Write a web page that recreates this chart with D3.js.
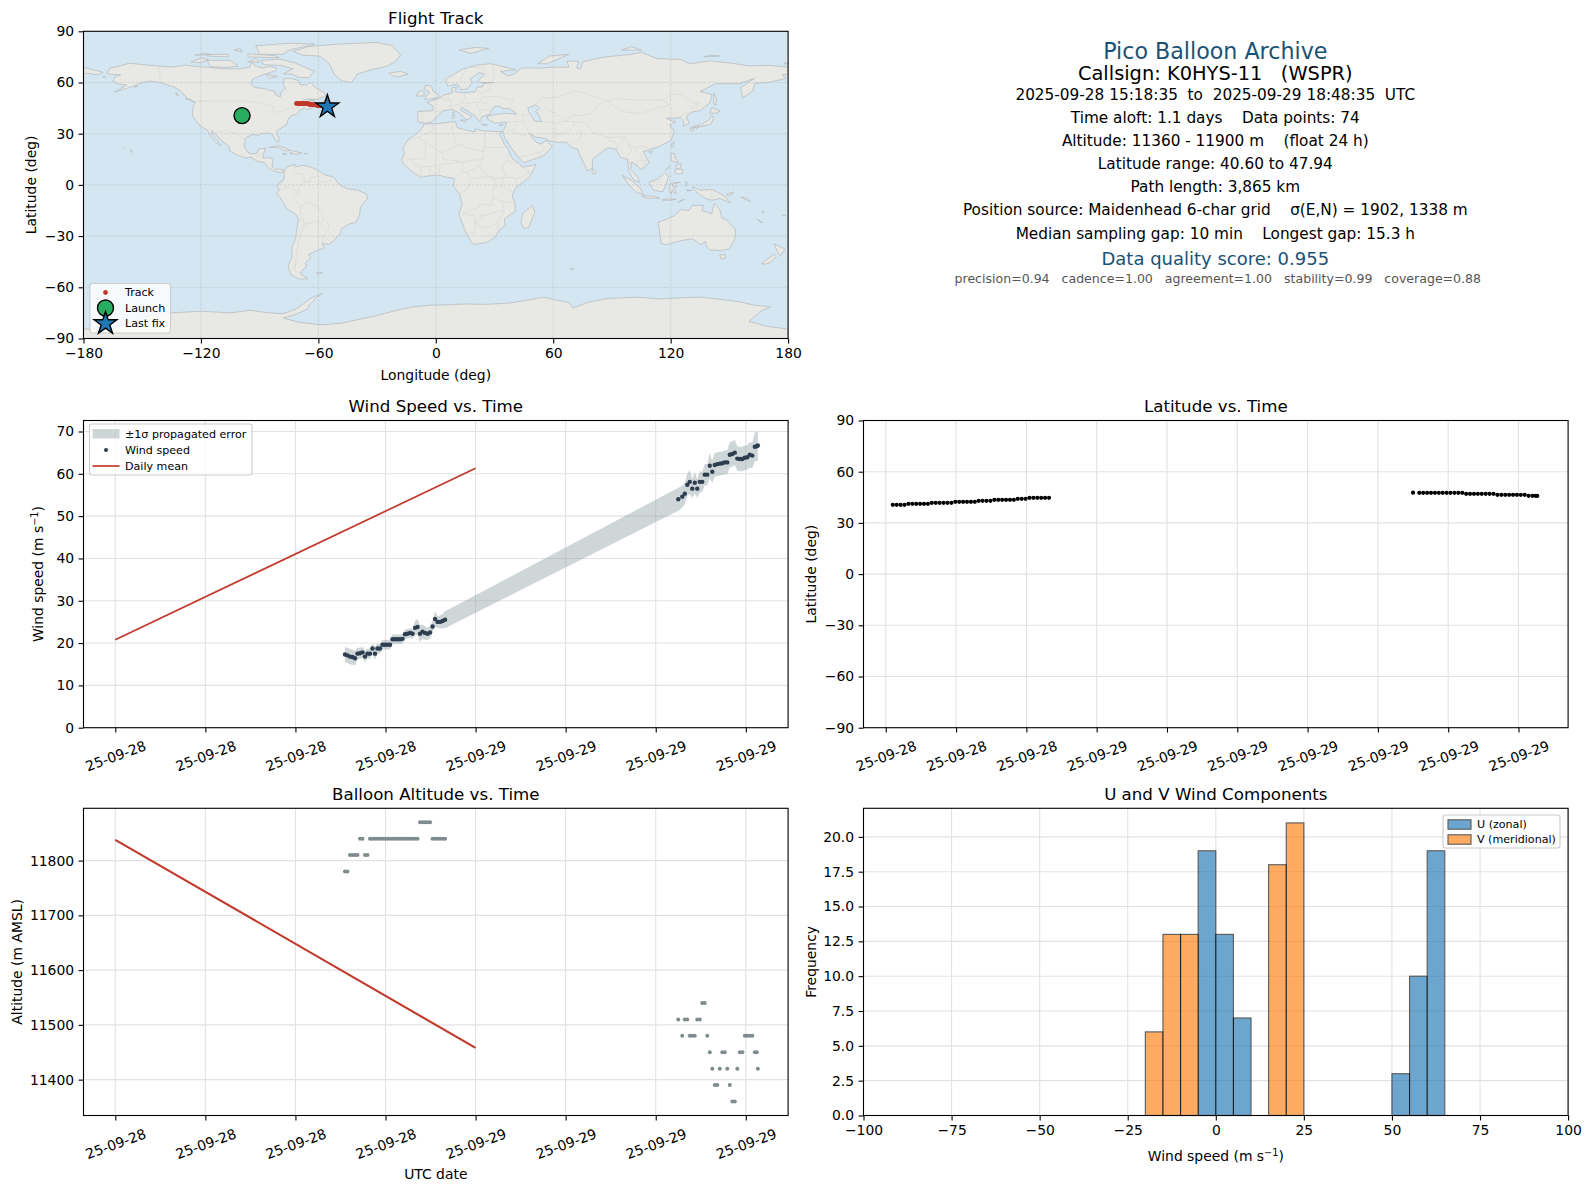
<!DOCTYPE html>
<html>
<head>
<meta charset="utf-8">
<script src="https://cdn.jsdelivr.net/npm/d3@7"></script>
<style>
  body { margin: 0; background: #fff; }
  text { font-family: "DejaVu Sans", sans-serif; fill: #000; white-space: pre; }
</style>
</head>
<body>
<div id="chart"></div>
<script>
// fix times, first and second day of the flight
var day1Times = ["15:18","15:28","15:38","15:48","15:58","16:08","16:18","16:28","16:38","16:48","16:58","17:08","17:18","17:28","17:38","17:48","17:58","18:08","18:18","18:28","18:38","18:48","18:58","19:08","19:18","19:28","19:38","19:48","19:58","20:08","20:18","20:28","20:38","20:48","20:58","21:08","21:18","21:28","21:38","21:48","21:58"];
var day2Times = ["13:30","13:46","13:56","14:06","14:16","14:26","14:36","14:46","14:56","15:06","15:16","15:26","15:36","15:46","15:56","16:06","16:16","16:26","16:36","16:46","16:56","17:06","17:16","17:26","17:36","17:46","17:56","18:06","18:16","18:26","18:36","18:44","18:48"];

var latitudes = [40.6,40.6,40.6,40.6,41.2,41.2,41.2,41.2,41.2,41.2,41.77,41.77,41.77,41.77,41.77,41.77,42.36,42.36,42.36,42.36,42.36,42.36,42.94,42.94,42.94,42.94,43.5,43.5,43.5,43.5,43.5,43.5,44.1,44.1,44.1,44.7,44.7,44.7,44.7,44.7,44.7,
  47.7,47.64,47.64,47.64,47.64,47.64,47.64,47.64,47.64,47.64,47.64,47.64,47.64,47.06,47.06,47.06,47.06,47.06,47.06,47.06,47.06,46.47,46.47,46.47,46.47,46.47,46.47,46.47,46.47,45.89,45.89,45.89,45.8];
// the map only shows the second day of the track, the first is under the launch marker
var trackLats = [47.7,47.64,47.64,47.64,47.64,47.64,47.64,47.64,47.64,47.64,47.64,47.64,47.64,47.06,47.06,47.06,47.06,47.06,47.06,47.06,47.06,46.47,46.47,46.47,46.47,46.47,46.47,46.47,46.47,45.89,45.89,45.89,45.8];
var trackLons = [-71.2,-70.4,-69.9,-69.4,-68.9,-68.5,-68,-67.5,-67,-66.6,-66.1,-65.6,-65.1,-64.6,-64.1,-63.6,-63.1,-62.6,-62.1,-61.6,-61.1,-60.6,-60.1,-59.6,-59.1,-58.6,-58.1,-57.6,-57.1,-56.7,-56.2,-55.8,-55.4];
var launchPos = [-99, 40.6];

var windSpeed = [17.3,17.1,16.8,16.7,16.4,17.5,17.6,17.8,16.8,17.5,17.5,18.7,17.5,18.7,18.7,19.6,19.6,19.6,19.6,20.9,20.9,20.9,20.9,21,22.1,22.2,22.4,22.2,23.6,23.8,22.2,22.7,22.4,22.2,22.5,23.9,25.7,25,25,25.2,25.5,
  54,54.6,55.3,57.4,58.1,56.5,57.9,56.5,58.1,58.1,59.8,59.8,61.9,60.5,62.1,62.3,62.4,62.5,62.7,62.7,64.5,64.7,65,63.6,63.5,63.5,63.8,63.9,64.5,64.3,66.4,66.5,66.7];
var windSigma = [1.8,1.8,1.8,1.8,1.7,1.4,1.3,1.3,1.4,1.2,1.2,1.2,1.5,1.2,1.1,1.1,1.1,1.1,1.1,1.1,1.1,1.1,1.1,1.1,1.1,1.1,1.1,1.2,1.7,1.9,1.9,1.7,1.6,1.5,1.4,1.4,1.9,1.4,1.5,1.7,2,
  2.7,2.6,2.5,2.6,2.8,2.2,2.5,2.2,2.5,2.4,2.5,2.5,3,2.6,2.8,2.8,2.8,2.8,2.8,2.8,3,3,3,2.9,2.9,2.9,2.9,2.9,3,3,3.4,3.5,3.5];

var altitudes = [11780,11780,11810,11810,11810,11810,11840,11840,11810,11810,11840,11840,11840,11840,11840,11840,11840,11840,11840,11840,11840,11840,11840,11840,11840,11840,11840,11840,11840,11840,11870,11870,11870,11870,11870,11840,11840,11840,11840,11840,11840,
  11510,11480,11510,11510,11480,11480,11480,11510,11510,11540,11540,11480,11450,11420,11390,11390,11420,11450,11450,11420,11390,11360,11360,11420,11450,11450,11480,11480,11480,11480,11450,11450,11420];

var meanDays = ["2025-09-28 00:00","2025-09-29 00:00"];
var meanWind = [20.8,61.3];
var meanAlt = [11838,11458];

var binWidth = 5;
var uBins = [-5,0,5,50,55,60];
var uCounts = [19,13,7,3,10,19];
var vBins = [-20,-15,-10,15,20];
var vCounts = [6,13,13,18,21];

var infoLines = [
  "2025-09-28 15:18:35  to  2025-09-29 18:48:35  UTC",
  "Time aloft: 1.1 days    Data points: 74",
  "Altitude: 11360 - 11900 m    (float 24 h)",
  "Latitude range: 40.60 to 47.94",
  "Path length: 3,865 km",
  "Position source: Maidenhead 6-char grid    σ(E,N) = 1902, 1338 m",
  "Median sampling gap: 10 min    Longest gap: 15.3 h"
];

// coastlines, rough lon/lat outlines
var land = [
  // north america
  [[-168,65.6],[-166.5,68.3],[-163,69.3],[-156.5,71.3],[-150,70.5],[-141,69.6],[-135,69],[-128,70.2],[-124,69.6],[-115,68.8],[-108,68],[-100,68],[-95,69],[-94,71.8],[-92,69.5],[-88,68.5],[-85,69.5],[-81.5,68.5],[-81.5,67],[-87,65],[-90,63.8],[-93.5,62],[-94.5,59],[-92.5,57],[-88,56.5],[-85,55.3],[-82.3,55],[-82,52.9],[-79.5,51.5],[-79,54.5],[-76.7,56.5],[-78,59],[-77.5,62.5],[-73.5,62.3],[-70,61],[-69.5,58.8],[-66,58.5],[-64.5,60.3],[-61.5,57],[-58,54.8],[-55.7,52.5],[-58.5,51.2],[-60,50.2],[-66.5,50.2],[-70,47.5],[-65,49],[-64.5,47.8],[-65,47],[-61,46],[-66,44],[-67,45],[-70,43.5],[-70.5,41.7],[-74,40.5],[-75.5,38],[-76,35.5],[-78,34],[-81,32],[-81.3,30],[-80,26.8],[-80.5,25.2],[-81.8,26],[-82.8,28],[-84,30],[-86,30.4],[-89.5,30],[-90,29.1],[-94,29.5],[-97.2,27.5],[-97.5,25],[-97.8,22.3],[-96,19],[-94.5,18.2],[-91.5,18.5],[-90.5,21],[-87,21.5],[-88,18],[-88.5,15.9],[-84,15.8],[-83.3,14.9],[-83.7,11],[-82.5,9.2],[-80,9.2],[-77.4,8.7],[-78,7.5],[-80,7.3],[-83,8.2],[-85.5,10],[-87.5,13],[-91.5,14],[-94.5,16.2],[-97,15.8],[-101.5,17.5],[-105.5,20],[-105.5,22.5],[-109,25.5],[-112.5,29.5],[-114.5,31.5],[-114.8,30],[-112,26.5],[-110,23],[-112,24.7],[-114.5,27.5],[-116,30.5],[-117.2,32.5],[-120.5,34.5],[-122.5,37.5],[-124.3,40.5],[-124,46],[-122.7,48.5],[-127,50.5],[-130,54.5],[-133,57],[-137,58.5],[-140,59.8],[-146,60.8],[-150,60],[-152,59],[-158,56.5],[-164,54.5],[-158,58.5],[-162,59],[-165,61],[-164,63.3],[-161,64.5],[-166,64.7]],
  // greenland and the arctic islands
  [[-73,78.2],[-65,81],[-50,82.5],[-30,83.5],[-22,81.5],[-18,76],[-21,72],[-25,69.5],[-33,67.5],[-40,65],[-43,60],[-48,61],[-52,65],[-53.5,69],[-55,71.5],[-59,75.5],[-68,76]],
  [[-80,73.7],[-72,71.5],[-68,69.5],[-62,66.5],[-65,62.8],[-70,63],[-73.5,65],[-78,65],[-73,68],[-79,70],[-88,70.5],[-89,73]],
  [[-117,73],[-105,73],[-101,69.5],[-108,68.8],[-115,69.3]],
  [[-125,72],[-120,74.3],[-116,73.5],[-120,71.5]],
  [[-90,76.5],[-78,76.5],[-75,79],[-62,82.5],[-75,83],[-92,81.5]],
  [[-96,75],[-80,74.5],[-82,75.7],[-96,76.8]],
  [[-117,75.5],[-106,75],[-106,76.5],[-117,76.5]],
  [[-123,76],[-118,77],[-115,76.3]],
  [[-103,79],[-99,78],[-100,80]],
  [[-96,72],[-92,74],[-90,72]],
  [[-87,65],[-81,63.5],[-85,62.5]],
  [[-59,47.7],[-55.5,51.5],[-52.8,47.5],[-55.5,46.8]],
  [[-128,50.7],[-123.5,48.4],[-125,50]],
  [[-133,54],[-131.5,53],[-132,52]],
  [[-64.5,49.9],[-61.8,49.4],[-63.5,49.2]],
  [[-85,22],[-80,23],[-74.2,20.2],[-77.5,19.9],[-80,22]],
  [[-74.4,18.4],[-72.8,19.9],[-68.4,18.7],[-71,18]],
  [[-78.3,18.4],[-76.3,18.1],[-77.5,17.8]],
  [[-67.2,18.5],[-65.6,18.3],[-67,18]],
  [[-156,20.8],[-155,19.6],[-155.8,19]],
  [[-159.7,22.2],[-159.3,21.9],[-159.6,21.8]],
  [[-154,57.8],[-152.3,58],[-153.5,57]],
  [[-170,63.5],[-168.7,63.3],[-170,63.1]],
  // chukotka, west of the date line
  [[-180,69],[-175,67.5],[-170,66],[-173,64.5],[-178,65.5],[-180,65]],
  // south america
  [[-77.4,8.7],[-75.5,10.8],[-72,12],[-71.5,10.7],[-68,11.5],[-64,10.5],[-60,8.5],[-57,6],[-52,4.5],[-50,1],[-48,-0.8],[-44.5,-2.5],[-40,-3],[-35.3,-5.3],[-34.9,-8],[-38.5,-13],[-39,-18],[-41,-22],[-44.5,-23],[-48.5,-26],[-48.8,-28.5],[-52.5,-33],[-54.5,-35],[-58.2,-34.2],[-57,-37],[-62,-39],[-65,-41],[-63.8,-42.5],[-67,-46],[-65.8,-47.5],[-69,-51],[-68.5,-52.5],[-65.5,-55],[-70,-55.2],[-74,-52.5],[-75.5,-48],[-73.5,-42],[-73.5,-37],[-71.5,-30],[-70.2,-20],[-71.5,-17.3],[-76.2,-14],[-79.5,-7.5],[-81.3,-5],[-80,-3],[-81,-1],[-80,1],[-78.5,2],[-77.5,4],[-77.5,7]],
  [[-61,-51.5],[-58,-51.5],[-59.5,-52.3]],
  // antarctica
  [[-180,-90],[-180,-84.5],[-165,-84],[-155,-80],[-148,-77],[-135,-75],[-120,-74],[-105,-75],[-95,-73.5],[-85,-75],[-78,-75.5],[-72,-73],[-68,-70],[-64,-66.5],[-58,-63.5],[-61,-66],[-64,-69.5],[-66,-73],[-72,-76],[-78,-78],[-70,-80.5],[-58,-82],[-48,-81],[-40,-79],[-30,-76.5],[-20,-73.5],[-12,-71.5],[-3,-70.5],[5,-70.3],[14,-69.8],[26,-70],[38,-69.2],[47,-67.5],[55,-65.8],[62,-67.5],[68,-69],[70,-72],[73,-71],[77,-69],[88,-66.5],[102,-65.8],[115,-66.8],[125,-66.2],[135,-65.7],[145,-67],[155,-68.5],[163,-70.5],[171,-71.5],[166,-74],[163,-77],[160,-80],[170,-83],[180,-84.5],[180,-90]],
  // africa
  [[-5.9,35.8],[0,35.8],[10,37.2],[11,33.5],[15,32.3],[20,31],[20,32.8],[25,31.6],[32,31.2],[34.3,31.2],[32.5,29.9],[35,24],[37.2,20.5],[39,15.5],[43.2,12],[44.5,10.4],[51.2,11.9],[48,4.5],[41,-1.5],[39,-6],[40.5,-11],[40.5,-15.5],[35,-20],[35.5,-24],[32.8,-26],[30,-31],[25.5,-34],[20,-34.8],[18.3,-34],[15,-27],[11.8,-17],[13.5,-11],[12,-5],[9,-1],[9.5,3.8],[6,4.4],[1,5.8],[-4.5,5.2],[-7.5,4.4],[-13,8.5],[-16.5,12.5],[-17.5,14.7],[-16,19],[-17,21],[-14.5,26],[-9.8,30],[-6.5,34]],
  // eurasia
  [[-5.5,36.1],[-9,37],[-9.3,43],[-1.5,43.5],[-1.2,46],[-4.5,48.4],[2,51],[4,52.5],[8.5,54],[8.2,57],[10.5,57.5],[10,54.5],[14,54],[20,54.5],[21,57],[24,57.5],[24,59.3],[30,60],[23,60],[21.5,61],[25,65],[22,65.8],[17.5,62],[18.5,60],[16.5,56.5],[13,55.5],[11,59],[6,58],[5,62],[14,68],[21,70.2],[28,71],[41,67.5],[33,66.5],[37,64],[40,65],[44,68.5],[54,68.5],[60,69],[68,69],[67,72.5],[73,72.5],[72,68.5],[74,68],[75,72],[80,73.5],[87,75],[100,76.5],[105,77.7],[113,74],[125,73.5],[130,71],[140,72.7],[150,71.5],[160,69.7],[170,70],[180,69],[180,65],[177,64.5],[179,62.5],[170,60],[163,59.5],[162,55],[156.8,51],[155.8,57],[163,62.5],[155,59.3],[143,59.3],[135,54.7],[141,53],[140,48],[135,43.5],[131,42.7],[128,40],[129.5,36],[126.5,34.5],[126.5,37.5],[125,39.5],[121.5,39],[118,39],[120.5,37.5],[122.5,37],[119.5,35],[122,31],[120,26],[114,22.5],[110,21],[106,19.5],[109,13],[105,9],[103,11],[100,13.5],[99.5,9],[103.5,4],[104,1.3],[101,3],[98.5,8],[98,15],[94.5,16],[92,21],[88,21.7],[85,19.5],[80,15],[80,10],[77.5,8],[73,19],[72.5,21],[69,22],[67,25],[61.5,25],[57,26],[56.5,27],[51,28],[48,30],[50,26.5],[51.5,25],[54,24],[56.3,26],[59.5,22.5],[55,17],[45,13],[43,15],[39,21],[35,28],[34.8,29.5],[34.3,31.2],[35.8,35],[36,36.8],[30,36.2],[26.5,38.5],[26,40],[29,41],[35,42],[41.5,41.5],[38,44.5],[33.5,45],[33,46],[30,46],[28,43],[28,41.5],[26,40.8],[23.5,40],[22.5,37],[19.5,41],[13,45.5],[12.5,44],[16,41.5],[18.5,40],[16,38],[12,42],[8.5,44.3],[3.5,43.3],[0,39.5],[-2,36.8]],
  // europe and arctic russia islands
  [[-24,65.5],[-18,66.5],[-14,65],[-19,63.4],[-22.5,64]],
  [[-5.5,50],[1.3,51],[1.5,52.8],[-1.5,55],[-2,57.5],[-5,58.6],[-6,56.5],[-3,54],[-5,52]],
  [[-10,52],[-6,52.2],[-6,55],[-8.5,55]],
  [[12,79],[20,80.5],[27,80],[18,77]],
  [[52,71],[57,71],[68,76.5],[58,75.5]],
  [[95,79],[105,79],[100,81]],
  [[137,75],[145,75.5],[140,76]],
  [[178,71.5],[180,71],[178,70.8]],
  [[8.5,41],[9.8,41],[9.5,39],[8.5,39]],
  [[12.5,38],[15.5,38],[15,36.7]],
  [[9,43],[9.5,42.5],[8.7,41.5]],
  [[23.5,35.5],[26.3,35.2],[24.5,34.9]],
  [[32.3,35],[34.5,35.6],[33.5,34.7]],
  // indian ocean
  [[49.3,-12],[50.5,-16],[47.5,-25],[45,-25.5],[43.5,-22],[44.5,-16.5]],
  [[80,9.8],[81.8,7.5],[80.5,6],[79.8,7.5]],
  [[69,-49],[70.5,-49.3],[69.5,-50]],
  // east asia
  [[142,54],[143.5,50],[143,46.5],[142,48]],
  [[141,45.4],[145.3,43.3],[143,42],[140,42]],
  [[131,34],[136,35.5],[140,38.5],[141,41],[142,39],[140.5,35.5],[137,34.5],[132,33.5]],
  [[130,33.5],[131.8,33],[131,31.2],[130,32]],
  [[132.5,34],[134.5,34],[133,33]],
  [[121,25],[122,25],[120.8,22],[120.1,23.3]],
  [[108.8,19.4],[110.8,20],[110,18.4]],
  [[120.5,18.5],[122.2,18.5],[122,16],[124,13],[120.7,13.8],[120,16]],
  [[122.5,9.5],[126.3,9],[126,6.5],[124,6.5],[122,7]],
  [[122.5,11.5],[125.5,12.5],[125,10],[123,9.5]],
  [[117.2,8.3],[119.5,10.5],[119.7,11.2],[118,9.2]],
  // indonesia and the pacific
  [[109,1.5],[113,3.2],[117,7],[119,5],[117.8,1],[116,-4],[111,-3]],
  [[95.3,5.6],[100,2.5],[104.5,-2],[106,-5.8],[102,-4],[98,1]],
  [[105.3,-6.5],[111,-6.5],[114.5,-7.8],[108,-7.8]],
  [[120,1],[125,1.5],[120.8,0.3],[121,-1],[123.3,-0.9],[121.5,-2],[123,-5],[121.5,-4.5],[120.8,-2.8],[120.3,-5.5],[119.5,-4],[119,-2.5]],
  [[116,-8.5],[119,-8.3],[123,-8.3],[119.5,-9],[116,-9]],
  [[124,-9.8],[127,-8.4],[124,-10.2]],
  [[127.5,2],[128.5,1],[128,-0.8]],
  [[128,-3],[130.8,-3.2],[128.5,-3.6]],
  [[131,-1],[135,-3],[141,-2.7],[147,-6],[150.5,-10.5],[145,-8],[141,-9],[138,-8],[133,-4]],
  [[148.5,-5.5],[152,-4.2],[151,-6],[149,-6.2]],
  [[156,-7],[159,-8],[161,-10],[157.5,-8.2]],
  [[164,-20],[167,-22],[166,-22]],
  [[167,-15],[167.5,-16.5],[166.7,-15.7]],
  [[177.2,-17.5],[178.6,-18],[177.5,-18.3]],
  [[113.5,-22],[114.2,-26],[115,-34.3],[118,-35],[124,-33],[131,-31.5],[135.5,-35],[138,-33],[138,-35.5],[140,-38],[145,-38.5],[150,-37.5],[153,-31],[153,-26],[149,-21],[146,-19],[145.3,-15],[142.5,-10.8],[141.5,-14],[141,-17],[136,-15],[136.7,-12],[131,-12],[129.5,-15],[125,-14.5],[122,-18],[117,-20.5]],
  [[145,-41],[148,-41],[148,-43],[146,-43.5]],
  [[172.8,-34.5],[178.5,-37.7],[176,-41.5],[174.7,-39.5]],
  [[172.8,-40.5],[174,-42],[171,-45.5],[168,-46.5],[166.5,-46]]
];

var lakes = [
  [[47,45],[51,47],[53,45],[51,43],[53,40],[54,37],[50.5,37.5],[49,40],[47.5,43]]
];

// country borders, only the bigger ones
var borders = [
  [[-141,69.6],[-141,60.3]],
  [[-123,49],[-95,49],[-89,48],[-83,46],[-82.5,42.5],[-79,43.2],[-75,45],[-71,45],[-68,47],[-67,45]],
  [[-117.2,32.5],[-111,31.3],[-106.5,31.8],[-101,29.5],[-97.2,26]],
  [[-92,14.5],[-91,17.5],[-88.8,18]],
  [[-72,12],[-73,9],[-72,7],[-67.5,6],[-67,1.5],[-70,-1],[-70,-4.2],[-73,-7],[-70.5,-11],[-69,-12.5],[-69,-16.5],[-69.5,-17.5],[-70.2,-18.4]],
  [[-60,8.5],[-60.5,5],[-64,4],[-64,2],[-67,1.5]],
  [[-80,-3],[-75.5,-1.5],[-70,-4.2]],
  [[-69,-12.5],[-65,-10],[-60,-13.5],[-58,-16],[-58,-20],[-55,-22],[-54.5,-25.5],[-57.5,-30],[-53.5,-33.5]],
  [[-57.6,-22],[-62.5,-22],[-67,-23],[-68.5,-18]],
  [[-70,-18.4],[-67,-23],[-69.5,-30],[-71,-39],[-72,-50],[-69,-52]],
  [[-58,-34],[-58,-30]],
  [[-52,4.5],[-54,2.3],[-57,2],[-60,1]],
  [[-1.5,43.5],[3,42.5]],
  [[-7,42],[-7,37.2]],
  [[2.5,51],[8,49],[7,46],[7.5,44]],
  [[7,53.5],[6,51],[8,49]],
  [[14,54],[15,51],[12.5,47.5],[7,46]],
  [[12.5,47.5],[17,48],[22,48.5],[24,51.5],[23.5,54],[21,55.3]],
  [[17,48],[16,46.5],[13.5,45.7]],
  [[22,48.5],[21,46],[22.5,44],[23,41.5],[20.5,40]],
  [[22.5,44],[28.5,43.7]],
  [[22,48.5],[26,48],[28,45.5],[29.5,45.3]],
  [[24,51.5],[32,52],[35,50.5],[40,49.5],[38.2,47]],
  [[23.5,54],[28,56],[27.7,59.5]],
  [[28,60.5],[30,63],[29,69.5]],
  [[12,61],[16,68.5],[20.5,69],[25,68.5],[24,66]],
  [[26,41.5],[28,41.8]],
  [[36,36.8],[42,37.2],[44.7,37.3],[44.5,39.5],[43.5,41]],
  [[44.7,37.3],[46,35],[46.5,33],[48,30]],
  [[42,37.2],[41,34.3],[39,32],[36,32]],
  [[48.5,41.8],[46.5,41],[43.5,41]],
  [[46.5,29],[44,29.2],[39,32]],
  [[52,19],[55,20],[55.5,22],[51.5,24.5]],
  [[43,16.5],[47,17],[52,19]],
  [[53,17],[53,19.5]],
  [[61.5,25],[61,29.5],[61,35],[60.5,36.5],[66.5,37.3],[71,37],[74.5,37]],
  [[61,29.5],[66,29.7],[70,33.5],[71,37]],
  [[54,37.3],[60.5,36.5]],
  [[66.5,37.3],[61,42],[56,45],[52,42],[53,41.5]],
  [[50,46.5],[55,51],[61,51],[71,55],[77,53.5],[83,51],[87.5,49]],
  [[87.5,49],[83,47],[80,42],[74.5,40.5],[70,41],[66.5,37.3]],
  [[87.5,49],[91,46],[97,42.7],[105,41.8],[112,44.8],[119,46.7],[116,49.7],[108,49.5],[98,50],[92,50.7],[87.5,49]],
  [[119,46.7],[116,49.7],[120,53],[126,53],[131,48],[135,48.3],[131,45],[131,42.7]],
  [[131,42.7],[128,42],[124.5,40]],
  [[126.5,38.5],[128.5,38.5]],
  [[74.5,37],[77.5,35.5],[80,30.5],[88,28],[92,27.8],[97,28.2],[98.5,24],[101.5,21.5],[105,23],[108,21.5]],
  [[74.5,32],[74,27],[70,24.5],[69,22]],
  [[88,28],[88.5,26],[92,25],[92.5,21]],
  [[97,28.2],[94,24],[92.5,21]],
  [[98.5,24],[100,20],[98,17],[99.5,11]],
  [[101.5,21.5],[104.5,18],[106,14.5],[103,14],[103,11]],
  [[106,14.5],[107.5,14],[106,11]],
  [[115,4.5],[114,1.3],[109.7,1.8]],
  [[141,-2.7],[141,-9]],
  // africa
  [[-1.5,35],[-1,32],[-9,27.7],[-13,27.7]],
  [[-9,27.7],[-5,25],[3,19],[12,23.5],[14,22.5],[24,19.5],[24,22],[36.8,22]],
  [[9,37],[8,32],[9.5,30],[10,24.5],[12,23.5]],
  [[25,31.6],[25,20],[24,19.5],[24,15],[22,11],[27,5],[31,3.7],[34,4.3],[36,4.5],[41,3.9]],
  [[24,15],[15.5,14],[14,12.5],[13.5,13.7],[4,15],[3,19]],
  [[-16.5,16],[-12,15],[-5.5,15.5],[-5,25]],
  [[-12,15],[-11.5,12.5],[-8,10.5],[-3,11],[2,11],[3.5,12],[13.5,13.7]],
  [[-8,10.5],[-7.5,4.4]],
  [[-3,11],[-3,5]],
  [[2,11],[1.7,6.2]],
  [[14,12.5],[13,7],[9.7,4]],
  [[13,7],[16,7.5],[22,11]],
  [[16,7.5],[18,3.5],[27,5]],
  [[18,3.5],[16,-3],[12,-5]],
  [[27,5],[31,2],[29.5,-1.5],[29,-8],[28.5,-12],[22,-11],[22,-13],[13.5,-17]],
  [[29.5,-1.5],[34,-1],[39.5,-4.5]],
  [[34,-1],[34,4.3]],
  [[36,14],[34,10],[36,4.5]],
  [[36.8,22],[37.5,18],[36,14],[42.5,12.5]],
  [[43,11],[48,8],[48,5]],
  [[48,8],[44,5],[41,3.9],[41,-1.5]],
  [[29,-8],[34,-9.5],[40.5,-10.5]],
  [[34,-9.5],[35,-16],[33,-19],[31.5,-22.3],[32,-26.8]],
  [[22,-18],[25,-18],[33,-15],[35,-16]],
  [[20,-18],[20,-28],[17,-28.5]],
  [[25,-18],[20,-22],[25,-25.5],[31.5,-22.3]],
  [[13.5,-17],[20,-18]]
];

var COL_LEFT = 83.5, COL_RIGHT = 863.5, PANEL_W = 704.6;
var ROW_TOP = [31.3, 420.5, 808.3], PANEL_H = 307.2;
var RED = "#c0392b", NAVY = "#2c3e50", GREY = "#7f8c8d", TITLE_BLUE = "#1a5276";

var parseFix = d3.utcParse("%Y-%m-%d %H:%M");
var fixes = day1Times.map(t => parseFix("2025-09-28 " + t))
  .concat(day2Times.map(t => parseFix("2025-09-29 " + t)));
var meanDates = meanDays.map(parseFix);

var svg = d3.select("#chart").append("svg")
  .attr("width", 1589)
  .attr("height", 1189)
  .style("display", "block");

var minus = s => String(s).replace("-", "\u2212");

function panel(left, top, title, titleGap) {
  var g = svg.append("g").attr("transform", "translate(" + left + "," + top + ")");
  g.append("text")
    .attr("x", PANEL_W / 2)
    .attr("y", -(titleGap || 8))
    .style("text-anchor", "middle")
    .style("font-size", "16.67px")
    .text(title);
  return g;
}

// spines and axes come last so they sit over the marks
function frame(g, xAxis, yAxis, rotate) {
  g.append("rect")
    .attr("width", PANEL_W)
    .attr("height", PANEL_H)
    .attr("fill", "none")
    .attr("stroke", "#000")
    .attr("stroke-width", 1.1);

  var gx = g.append("g")
    .attr("transform", "translate(0," + PANEL_H + ")")
    .call(xAxis.tickSizeOuter(0).tickSize(4.9).tickPadding(4.5));
  var gy = g.append("g")
    .call(yAxis.tickSizeOuter(0).tickSize(4.9).tickPadding(4.5));
  [gx, gy].forEach(a => {
    a.select(".domain").remove();
    a.selectAll(".tick line").attr("stroke", "#000").attr("stroke-width", 1.1);
    a.selectAll("text").style("font-size", "13.9px").style("font-family", '"DejaVu Sans", sans-serif').attr("fill", "#000");
  });
  if (rotate) {
    gx.selectAll(".tick text")
      .attr("y", 0)
      .attr("dy", 0)
      .attr("transform", "translate(0,28.2) rotate(-20)")
      .attr("dominant-baseline", "central")
      .style("text-anchor", "middle");
  }
}

function grid(g, xVals, x, yVals, y) {
  g.append("g").selectAll("line").data(xVals).enter().append("line")
    .attr("x1", d => x(d)).attr("x2", d => x(d))
    .attr("y1", 0).attr("y2", PANEL_H)
    .attr("stroke", "#e2e2e2").attr("stroke-width", 1.1);
  g.append("g").selectAll("line").data(yVals).enter().append("line")
    .attr("y1", d => y(d)).attr("y2", d => y(d))
    .attr("x1", 0).attr("x2", PANEL_W)
    .attr("stroke", "#e2e2e2").attr("stroke-width", 1.1);
}

function axisLabel(text, x, y, vertical) {
  var t = svg.append("text")
    .attr("transform", "translate(" + x + "," + y + ")" + (vertical ? " rotate(-90)" : ""))
    .attr("dominant-baseline", "central")
    .style("text-anchor", "middle")
    .style("font-size", "13.9px");
  // the unit has a superscript
  var m = text.split("^");
  t.append("tspan").text(m[0]);
  if (m[1]) {
    t.append("tspan").attr("dy", "-0.4em").style("font-size", "9.7px").text(m[1]);
    t.append("tspan").attr("dy", "0.28em").text(")");
  }
}

function legendBox(x, y, w, h) {
  svg.append("rect")
    .attr("x", x).attr("y", y).attr("width", w).attr("height", h)
    .attr("rx", 2.5)
    .attr("fill", "#fff").attr("fill-opacity", 0.8)
    .attr("stroke", "#ccc").attr("stroke-width", 1.1);
}

function legendText(text, x, y) {
  svg.append("text")
    .attr("x", x).attr("y", y)
    .attr("dominant-baseline", "central")
    .style("font-size", "11.1px")
    .text(text);
}

// ---- flight track map
(function () {
  var g = panel(COL_LEFT, ROW_TOP[0], "Flight Track", 7);
  var x = d3.scaleLinear().domain([-180, 180]).range([0, PANEL_W]);
  var y = d3.scaleLinear().domain([-90, 90]).range([PANEL_H, 0]);
  var line = d3.line().x(d => x(d[0])).y(d => y(d[1]));

  svg.append("clipPath").attr("id", "map-clip").append("rect")
    .attr("width", PANEL_W).attr("height", PANEL_H);
  var map = g.append("g").attr("clip-path", "url(#map-clip)");

  map.append("rect").attr("width", PANEL_W).attr("height", PANEL_H).attr("fill", "#d4e6f1");
  map.selectAll(".land").data(land).enter().append("path")
    .attr("class", "land")
    .attr("d", d => line(d) + "Z")
    .attr("fill", "#e8e8e4")
    .attr("stroke", "#b4b8ba")
    .attr("stroke-width", 0.7);
  map.selectAll(".border").data(borders).enter().append("path")
    .attr("class", "border")
    .attr("d", line)
    .attr("fill", "none")
    .attr("stroke", "#d9d9d5")
    .attr("stroke-width", 0.7);
  map.selectAll(".lake").data(lakes).enter().append("path")
    .attr("class", "lake")
    .attr("d", d => line(d) + "Z")
    .attr("fill", "#d4e6f1")
    .attr("stroke", "#b4b8ba")
    .attr("stroke-width", 0.7);

  var gridColor = "#a9b0b4";
  map.append("g").selectAll("line").data(d3.range(-120, 180, 60)).enter().append("line")
    .attr("x1", d => x(d)).attr("x2", d => x(d)).attr("y1", 0).attr("y2", PANEL_H)
    .attr("stroke", gridColor).attr("stroke-opacity", 0.55).attr("stroke-width", 0.7).attr("stroke-dasharray", "2.5,1.5");
  map.append("g").selectAll("line").data(d3.range(-60, 90, 30)).enter().append("line")
    .attr("y1", d => y(d)).attr("y2", d => y(d)).attr("x1", 0).attr("x2", PANEL_W)
    .attr("stroke", gridColor).attr("stroke-opacity", 0.55).attr("stroke-width", 0.7).attr("stroke-dasharray", "2.5,1.5");

  map.selectAll(".fix").data(trackLons).enter().append("circle")
    .attr("class", "fix")
    .attr("cx", d => x(d))
    .attr("cy", (d, i) => y(trackLats[i]))
    .attr("r", 2.4)
    .attr("fill", RED);

  var last = trackLons.length - 1;
  map.append("circle")
    .attr("cx", x(launchPos[0])).attr("cy", y(launchPos[1]))
    .attr("r", 8).attr("fill", "#27ae60").attr("stroke", "#000").attr("stroke-width", 1.4);
  map.append("path")
    .attr("d", d3.symbol().type(d3.symbolStar).size(160))
    .attr("transform", "translate(" + x(trackLons[last]) + "," + y(trackLats[last]) + ")")
    .attr("fill", "#1f77b4").attr("stroke", "#000").attr("stroke-width", 1.4);

  frame(g,
    d3.axisBottom(x).tickValues(d3.range(-180, 181, 60)).tickFormat(minus),
    d3.axisLeft(y).tickValues(d3.range(-90, 91, 30)).tickFormat(minus));

  axisLabel("Longitude (deg)", COL_LEFT + PANEL_W / 2, 375);
  axisLabel("Latitude (deg)", 30.5, ROW_TOP[0] + PANEL_H / 2, true);

  legendBox(90, 283.5, 80.5, 49.5);
  svg.append("circle").attr("cx", 105.5).attr("cy", 292.5).attr("r", 2.4).attr("fill", RED);
  svg.append("circle").attr("cx", 105.5).attr("cy", 308).attr("r", 8).attr("fill", "#27ae60").attr("stroke", "#000").attr("stroke-width", 1.4);
  svg.append("path")
    .attr("d", d3.symbol().type(d3.symbolStar).size(160))
    .attr("transform", "translate(105.5,323.5)")
    .attr("fill", "#1f77b4").attr("stroke", "#000").attr("stroke-width", 1.4);
  legendText("Track", 125, 292.5);
  legendText("Launch", 125, 308);
  legendText("Last fix", 125, 323.5);
})();

// ---- summary text, top right
(function () {
  var cx = COL_RIGHT + PANEL_W / 2 - 0.5;
  function centered(text, y, size, color, shift) {
    svg.append("text")
      .attr("x", cx + (shift || 0)).attr("y", y)
      .attr("dominant-baseline", "central")
      .style("text-anchor", "middle")
      .style("font-size", size + "px")
      .style("fill", color)
      .text(text);
  }
  centered("Pico Balloon Archive", 51, 22.2, TITLE_BLUE);
  centered("Callsign: K0HYS-11   (WSPR)", 73.3, 19.4, "#000");
  var ys = [94.6, 117.8, 141.1, 163.5, 186.8, 210.2, 233.5];
  infoLines.forEach((s, i) => centered(s, ys[i], 15.3, "#000"));
  centered("Data quality score: 0.955", 258, 18, TITLE_BLUE);
  centered("precision=0.94   cadence=1.00   agreement=1.00   stability=0.99   coverage=0.88", 278.3, 12.55, "#555", 2.5);
})();

// shared time scale of the wind and altitude panels
var xLong = d3.scaleUtc()
  .domain([new Date(Date.UTC(2025, 8, 27, 21, 53, 0)), new Date(Date.UTC(2025, 8, 29, 20, 49, 0))])
  .range([0, PANEL_W]);
var xLongTicks = xLong.ticks(d3.utcHour.every(6));
var dateFmt = d3.utcFormat("%y-%m-%d");

// ---- wind speed
(function () {
  var g = panel(COL_LEFT, ROW_TOP[1], "Wind Speed vs. Time", 8.5);
  var y = d3.scaleLinear().domain([0, 72.6]).range([PANEL_H, 0]);
  grid(g, xLongTicks, xLong, d3.range(10, 71, 10), y);

  g.append("path")
    .datum(fixes)
    .attr("d", d3.area()
      .x(d => xLong(d))
      .y0((d, i) => y(windSpeed[i] - windSigma[i]))
      .y1((d, i) => y(windSpeed[i] + windSigma[i])))
    .attr("fill", "#95a5a6").attr("fill-opacity", 0.45);

  g.append("path")
    .datum(meanDates)
    .attr("d", d3.line().x(d => xLong(d)).y((d, i) => y(meanWind[i])))
    .attr("fill", "none").attr("stroke", RED).attr("stroke-width", 1.7);

  g.selectAll(".pt").data(fixes).enter().append("circle")
    .attr("class", "pt")
    .attr("cx", d => xLong(d))
    .attr("cy", (d, i) => y(windSpeed[i]))
    .attr("r", 2.2)
    .attr("fill", NAVY);

  frame(g,
    d3.axisBottom(xLong).tickValues(xLongTicks).tickFormat(dateFmt),
    d3.axisLeft(y).tickValues(d3.range(0, 71, 10)),
    true);

  axisLabel("Wind speed (m s^\u22121", 37.5, ROW_TOP[1] + PANEL_H / 2, true);

  legendBox(89.5, 424, 162.5, 51);
  svg.append("rect").attr("x", 92.5).attr("y", 429).attr("width", 27).attr("height", 9.5)
    .attr("fill", "#95a5a6").attr("fill-opacity", 0.45);
  svg.append("circle").attr("cx", 106).attr("cy", 450).attr("r", 2).attr("fill", NAVY);
  svg.append("line").attr("x1", 92.5).attr("x2", 119.5).attr("y1", 466).attr("y2", 466)
    .attr("stroke", RED).attr("stroke-width", 1.7);
  legendText("\u00b11\u03c3 propagated error", 125, 434);
  legendText("Wind speed", 125, 450);
  legendText("Daily mean", 125, 466);
})();

// ---- latitude
(function () {
  var g = panel(COL_RIGHT, ROW_TOP[1], "Latitude vs. Time", 8.5);
  var x = d3.scaleUtc()
    .domain([new Date(Date.UTC(2025, 8, 28, 14, 3, 0)), new Date(Date.UTC(2025, 8, 29, 20, 7, 0))])
    .range([0, PANEL_W]);
  var y = d3.scaleLinear().domain([-90, 90]).range([PANEL_H, 0]);
  var ticks = x.ticks(d3.utcHour.every(3));
  grid(g, ticks, x, d3.range(-60, 61, 30), y);

  g.selectAll(".pt").data(fixes).enter().append("circle")
    .attr("class", "pt")
    .attr("cx", d => x(d))
    .attr("cy", (d, i) => y(latitudes[i]))
    .attr("r", 2.1)
    .attr("fill", "#000");

  frame(g,
    d3.axisBottom(x).tickValues(ticks).tickFormat(dateFmt),
    d3.axisLeft(y).tickValues(d3.range(-90, 91, 30)).tickFormat(minus),
    true);

  axisLabel("Latitude (deg)", 811, ROW_TOP[1] + PANEL_H / 2, true);
})();

// ---- altitude
(function () {
  var g = panel(COL_LEFT, ROW_TOP[2], "Balloon Altitude vs. Time");
  var y = d3.scaleLinear().domain([11334.5, 11895.5]).range([PANEL_H, 0]);
  var yTicks = d3.range(11400, 11801, 100);
  grid(g, xLongTicks, xLong, yTicks, y);

  g.append("path")
    .datum(meanDates)
    .attr("d", d3.line().x(d => xLong(d)).y((d, i) => y(meanAlt[i])))
    .attr("fill", "none").attr("stroke", RED).attr("stroke-width", 2.1);

  g.selectAll(".pt").data(fixes).enter().append("circle")
    .attr("class", "pt")
    .attr("cx", d => xLong(d))
    .attr("cy", (d, i) => y(altitudes[i]))
    .attr("r", 2)
    .attr("fill", GREY);

  frame(g,
    d3.axisBottom(xLong).tickValues(xLongTicks).tickFormat(dateFmt),
    d3.axisLeft(y).tickValues(yTicks).tickFormat(d3.format("d")),
    true);

  axisLabel("UTC date", COL_LEFT + PANEL_W / 2, 1174);
  axisLabel("Altitude (m AMSL)", 16.5, ROW_TOP[2] + PANEL_H / 2, true);
})();

// ---- u and v histogram
(function () {
  var g = panel(COL_RIGHT, ROW_TOP[2], "U and V Wind Components");
  var x = d3.scaleLinear().domain([-100, 100]).range([0, PANEL_W]);
  var y = d3.scaleLinear().domain([0, 22.05]).range([PANEL_H, 0]);
  var xTicks = d3.range(-100, 101, 25);
  var yTicks = d3.range(0, 20.1, 2.5);
  grid(g, xTicks, x, yTicks.slice(1), y);

  function bars(starts, counts, color) {
    g.append("g").selectAll("rect").data(starts).enter().append("rect")
      .attr("x", d => x(d))
      .attr("y", (d, i) => y(counts[i]))
      .attr("width", d => x(d + binWidth) - x(d))
      .attr("height", (d, i) => PANEL_H - y(counts[i]))
      .attr("fill", color)
      .attr("stroke", "#000")
      .attr("stroke-width", 1.1)
      .attr("opacity", 0.65);
  }
  bars(uBins, uCounts, "#1f77b4");
  bars(vBins, vCounts, "#ff7f0e");

  frame(g,
    d3.axisBottom(x).tickValues(xTicks).tickFormat(minus),
    d3.axisLeft(y).tickValues(yTicks).tickFormat(d3.format(".1f")));

  axisLabel("Wind speed (m s^\u22121", COL_RIGHT + PANEL_W / 2, 1156);
  axisLabel("Frequency", 811, ROW_TOP[2] + PANEL_H / 2, true);

  legendBox(1443, 815, 117, 33);
  [["#1f77b4", "U (zonal)", 824.5], ["#ff7f0e", "V (meridional)", 839.5]].forEach(e => {
    svg.append("rect").attr("x", 1448).attr("y", e[2] - 4.7).attr("width", 23).attr("height", 9.4)
      .attr("fill", e[0]).attr("stroke", "#000").attr("stroke-width", 1.1).attr("opacity", 0.65);
    legendText(e[1], 1477, e[2]);
  });
})();
</script>
</body>
</html>
